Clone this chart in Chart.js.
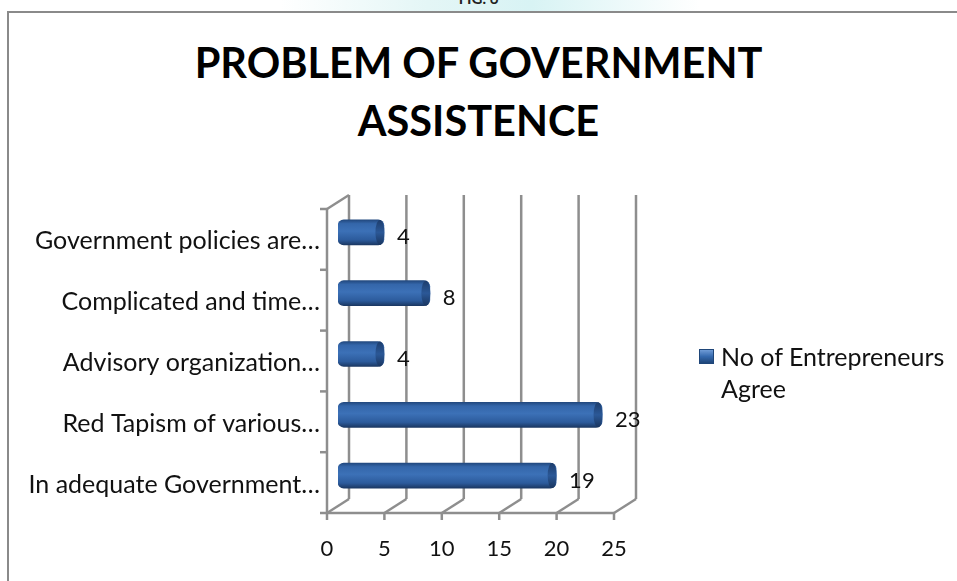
<!DOCTYPE html>
<html>
<head>
<meta charset="utf-8">
<script src="https://cdn.jsdelivr.net/npm/chart.js@4.4.1/dist/chart.umd.min.js"></script>
<style>
  html, body { margin: 0; padding: 0; background: #fff; overflow: hidden; }
  #page { position: relative; width: 957px; height: 581px; overflow: hidden; }
  #topglow { position: absolute; left: 280px; top: 0; width: 420px; height: 11px;
    background: linear-gradient(90deg, #ffffff 0%, #e4f6f6 35%, #d8f3f4 60%, #ffffff 100%); }
  #fig { position: absolute; left: 0; width: 957px; top: -11px; text-align: center;
    font: bold 15px Lato, sans-serif; color: #222; }
  #box { position: absolute; left: 7px; top: 11px; width: 980px; height: 620px;
    border-left: 2px solid #8a8a8a; border-top: 2px solid #8a8a8a; background: #fff; }
  #diskGraph { position: absolute; left: 0; top: 0; }
  #title { position: absolute; left: 0; width: 957px; top: 33px; text-align: center;
    font: bold 41.5px Lato, sans-serif; line-height: 58px; color: #000; }
  #legend { position: absolute; left: 699px; top: 340px; font: 25px Lato, sans-serif;
    color: #111; line-height: 32px; }
  #legend .mark { position: absolute; left: 0; top: 9px; width: 13px; height: 13px;
    border: 1px solid #1f4679; background: linear-gradient(180deg, #6f9bd6 0%, #3569ae 50%, #1f4679 100%); }
  #legend .txt { position: absolute; left: 22px; top: 0; width: 240px; }
</style>
</head>
<body>
<div id="page">
  <div id="topglow"></div>
  <div id="fig">FIG. 6</div>
  <div id="box"></div>
  <div id="title"></div>
  <canvas id="diskGraph" width="957" height="581"></canvas>
  <div id="legend"><div class="mark"></div><div class="txt" id="legendText"></div></div>
</div>
<script>
const titleLines = ['PROBLEM OF GOVERNMENT', 'ASSISTENCE'];
const categories = [
    'Government policies are…',
    'Complicated and time…',
    'Advisory organization…',
    'Red Tapism of various…',
    'In adequate Government…'
];
const seriesName = 'No of Entrepreneurs Agree';
const agreeCounts = [4, 8, 4, 23, 19];
const xMin = 0, xMax = 25, xStep = 5;

document.getElementById('title').innerHTML = titleLines.join('<br>');
document.getElementById('legendText').textContent = seriesName;

// 3D look: depth offset between the middle plane (where bars sit) and front/back
const DX = 11, DY = 7;

const wallPlugin = {
    id: 'walls',
    beforeDatasetsDraw(chart) {
        const { ctx, chartArea: a, scales: { x, y } } = chart;
        const line = (x1, y1, x2, y2) => { ctx.beginPath(); ctx.moveTo(x1, y1); ctx.lineTo(x2, y2); ctx.stroke(); };
        ctx.save();
        ctx.strokeStyle = '#8e8e8e';
        ctx.lineWidth = 2.5;
        const x0 = x.getPixelForValue(xMin);
        const xN = x.getPixelForValue(xMax);
        x.ticks.forEach(t => {
            const px = x.getPixelForValue(t.value);
            line(px + DX, a.top - DY, px + DX, a.bottom - DY);      // back wall grid
            line(px - DX, a.bottom + DY, px + DX, a.bottom - DY);   // floor
            line(px - DX, a.bottom + DY, px - DX, a.bottom + DY + 7); // tick
        });
        line(x0 - DX, a.bottom + DY, xN - DX, a.bottom + DY);       // floor front edge
        line(x0 - DX, a.top + DY, x0 - DX, a.bottom + DY);          // side wall front edge
        line(x0 - DX, a.top + DY, x0 + DX, a.top - DY);             // side wall top
        for (let i = 0; i <= categories.length; i++) {
            const py = y.getPixelForValue(i - 0.5) + DY;
            line(x0 - DX - 7, py, x0 - DX, py);
        }
        ctx.restore();
    },
    afterDatasetsDraw(chart) {
        const { ctx } = chart;
        const meta = chart.getDatasetMeta(0);
        ctx.save();
        meta.data.forEach((bar, i) => {
            const h = bar.height;
            // end cap of the cylinder
            const g = ctx.createLinearGradient(0, bar.y - h / 2, 0, bar.y + h / 2);
            g.addColorStop(0, '#1d3d6c');
            g.addColorStop(0.5, '#2b5897');
            g.addColorStop(1, '#1a3660');
            ctx.fillStyle = g;
            ctx.beginPath();
            ctx.ellipse(bar.x - 4, bar.y, 4.5, h / 2, 0, 0, Math.PI * 2);
            ctx.fill();
            // value label
            ctx.fillStyle = '#111';
            ctx.font = '22px Lato';
            ctx.textAlign = 'left';
            ctx.textBaseline = 'middle';
            ctx.fillText(String(agreeCounts[i]), bar.x + 13, bar.y + 5);
        });
        ctx.restore();
    }
};

function initChart() {
    const ctx = document.getElementById('diskGraph').getContext('2d');
    Chart.defaults.font.family = 'Lato';
    Chart.defaults.color = '#111';

    new Chart(ctx, {
        type: 'bar',
        data: {
            labels: categories,
            datasets: [{
                label: seriesName,
                data: agreeCounts,
                barThickness: 25,
                borderSkipped: false,
                borderRadius: 6,
                borderWidth: 0,
                backgroundColor: function(c) {
                    const chart = c.chart;
                    if (!chart.chartArea || !chart.scales.y) return '#2f60a4';
                    const yc = chart.scales.y.getPixelForValue(c.dataIndex);
                    const g = chart.ctx.createLinearGradient(0, yc - 12.5, 0, yc + 12.5);
                    g.addColorStop(0, '#22497f');
                    g.addColorStop(0.15, '#3466aa');
                    g.addColorStop(0.45, '#3c71b7');
                    g.addColorStop(0.8, '#2c5b9c');
                    g.addColorStop(1, '#1b3863');
                    return g;
                }
            }]
        },
        options: {
            indexAxis: 'y',
            responsive: false,
            animation: false,
            layout: {
                padding: { top: 202, bottom: 5, left: 0, right: 332 }
            },
            scales: {
                x: {
                    min: xMin,
                    max: xMax,
                    grid: { display: false },
                    border: { display: false },
                    afterFit: function(scale) { scale.height = 70; },
                    ticks: {
                        stepSize: xStep,
                        padding: 22,
                        labelOffset: -DX,
                        color: '#111',
                        font: { size: 22 }
                    }
                },
                y: {
                    grid: { display: false },
                    border: { display: false },
                    afterFit: function(scale) { scale.width = 338; },
                    ticks: {
                        padding: 10,
                        labelOffset: 9,
                        color: '#111',
                        font: { size: 25 }
                    }
                }
            },
            plugins: {
                legend: { display: false },
                tooltip: { enabled: false },
                title: { display: false }
            }
        },
        plugins: [wallPlugin]
    });
}

initChart();
</script>
</body>
</html>
